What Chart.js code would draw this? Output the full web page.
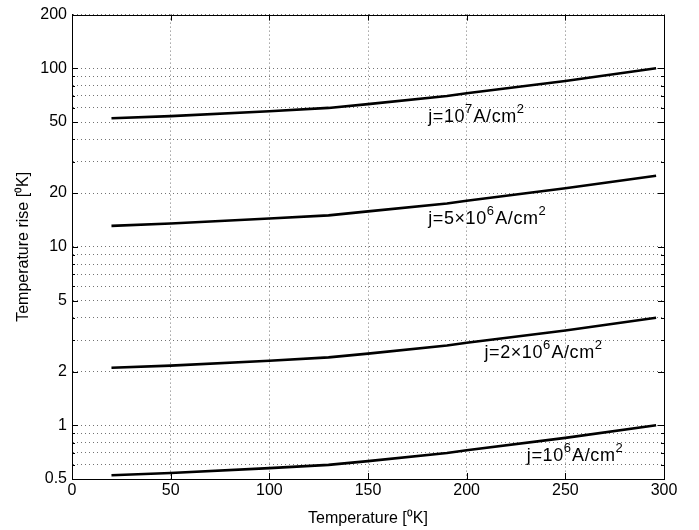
<!DOCTYPE html>
<html>
<head>
<meta charset="utf-8">
<script src="https://cdn.jsdelivr.net/npm/chart.js@4/dist/chart.umd.min.js"></script>
<style>
  html, body { margin: 0; padding: 0; background: #fff; }
  #wrap { width: 699px; height: 530px; }
</style>
</head>
<body>
<div id="wrap"><canvas id="c" width="699" height="530"></canvas></div>
<script>
// ---- data ----
const temperatures = [20, 50, 100, 130, 150, 190, 200, 250, 296];
const rise_j1e7   = [52.5, 54, 57.5, 60, 63, 70, 72.5, 85, 100];
const rise_j5e6   = [13.1, 13.5, 14.4, 15, 15.8, 17.5, 18.1, 21.3, 25];
const rise_j2e6   = [2.1, 2.16, 2.3, 2.4, 2.52, 2.8, 2.9, 3.4, 4.0];
const rise_j1e6   = [0.525, 0.54, 0.575, 0.6, 0.63, 0.7, 0.725, 0.85, 1.0];
const xTickValues = [0, 50, 100, 150, 200, 250, 300];
const yMajorTicks = [0.5, 1, 2, 5, 10, 20, 50, 100, 200];
const yGridValues = [0.5,0.6,0.7,0.8,0.9,1,2,3,4,5,6,7,8,9,10,20,30,40,50,60,70,80,90,100,200];
const seriesNames = ['j=10^7', 'j=5x10^6', 'j=2x10^6', 'j=10^6'];
// annotation labels: text segments (base / superscript) with anchor in data coords
const annotations = [
  { parts: [['j=10', false], ['7', true], ['A/cm', false], ['2', true]], x: 180.5, y: 53.7 },
  { parts: [['j=5\u00D710', false], ['6', true], ['A/cm', false], ['2', true]], x: 180.5, y: 14.3 },
  { parts: [['j=2\u00D710', false], ['6', true], ['A/cm', false], ['2', true]], x: 209, y: 2.53 },
  { parts: [['j=10', false], ['6', true], ['A/cm', false], ['2', true]], x: 230.5, y: 0.67 }
];

const FONT = "'Liberation Sans', Arial, Helvetica, sans-serif";

function mk(name, vals) {
  return {
    label: name,
    data: temperatures.map((t, i) => ({ x: t, y: vals[i] })),
    borderColor: '#000',
    backgroundColor: '#000',
    borderWidth: 2.6,
    pointRadius: 0,
    tension: 0,
    fill: false
  };
}

const decor = {
  id: 'decor',
  afterDraw(chart) {
    const { ctx, chartArea: a, scales: { x, y } } = chart;
    ctx.save();
    // axis box
    ctx.strokeStyle = '#000';
    ctx.lineWidth = 1;
    ctx.strokeRect(Math.round(a.left) + 0.5, Math.round(a.top) + 0.5,
                   Math.round(a.right - a.left), Math.round(a.bottom - a.top));
    // inward ticks
    ctx.beginPath();
    yGridValues.forEach(v => {
      const p = Math.round(y.getPixelForValue(v)) + 0.5;
      const len = yMajorTicks.includes(v) ? 6 : 3;
      ctx.moveTo(a.left, p); ctx.lineTo(a.left + len, p);
      ctx.moveTo(a.right, p); ctx.lineTo(a.right - len, p);
    });
    xTickValues.forEach(v => {
      const p = Math.round(x.getPixelForValue(v)) + 0.5;
      ctx.moveTo(p, a.bottom); ctx.lineTo(p, a.bottom - 6);
      ctx.moveTo(p, a.top); ctx.lineTo(p, a.top + 6);
    });
    ctx.stroke();
    // annotations
    ctx.fillStyle = '#000';
    ctx.textBaseline = 'alphabetic';
    ctx.textAlign = 'left';
    if ('letterSpacing' in ctx) ctx.letterSpacing = '0.6px';
    annotations.forEach(an => {
      let px = x.getPixelForValue(an.x);
      const py = y.getPixelForValue(an.y) + 5;
      an.parts.forEach(([txt, sup]) => {
        ctx.font = (sup ? '13px ' : '18px ') + FONT;
        ctx.fillText(txt, px, sup ? py - 9 : py);
        px += ctx.measureText(txt).width + (sup ? 0.5 : 0);
      });
    });
    ctx.restore();
  }
};

new Chart(document.getElementById('c'), {
  type: 'line',
  data: {
    datasets: [mk(seriesNames[0], rise_j1e7), mk(seriesNames[1], rise_j5e6),
               mk(seriesNames[2], rise_j2e6), mk(seriesNames[3], rise_j1e6)]
  },
  options: {
    responsive: false,
    animation: false,
    devicePixelRatio: 1,
    layout: { padding: { left: 0, right: 35, top: 13, bottom: 0 } },
    plugins: { legend: { display: false }, tooltip: { enabled: false } },
    scales: {
      x: {
        type: 'linear',
        min: 0, max: 300,
        afterBuildTicks: s => { s.ticks = xTickValues.map(v => ({ value: v })); },
        afterFit: s => { s.height = 51; },
        ticks: { color: '#000', font: { family: FONT, size: 16 }, padding: 2, autoSkip: false, maxRotation: 0 },
        grid: { color: 'rgba(0,0,0,0.55)', lineWidth: 1, drawTicks: false },
        border: { display: true, color: '#000', width: 1, dash: [1, 3] },
        title: { display: true, text: 'Temperature [\u2070K]', color: '#000',
                 font: { family: FONT, size: 16 }, padding: { top: 0, bottom: 2 } }
      },
      y: {
        type: 'logarithmic',
        min: 0.5, max: 200,
        afterBuildTicks: s => { s.ticks = yGridValues.map(v => ({ value: v })); },
        afterFit: s => { s.width = 72; },
        ticks: {
          color: '#000', font: { family: FONT, size: 16 }, padding: 5, autoSkip: false,
          callback: v => yMajorTicks.includes(v) ? String(v) : ''
        },
        grid: { color: 'rgba(0,0,0,0.55)', lineWidth: 1, drawTicks: false },
        border: { display: true, color: '#000', width: 1, dash: [1, 3] },
        title: { display: true, text: 'Temperature rise [\u2070K]', color: '#000',
                 font: { family: FONT, size: 16 }, padding: { top: 14, bottom: 0 } }
      }
    }
  },
  plugins: [decor]
});
</script>
</body>
</html>
